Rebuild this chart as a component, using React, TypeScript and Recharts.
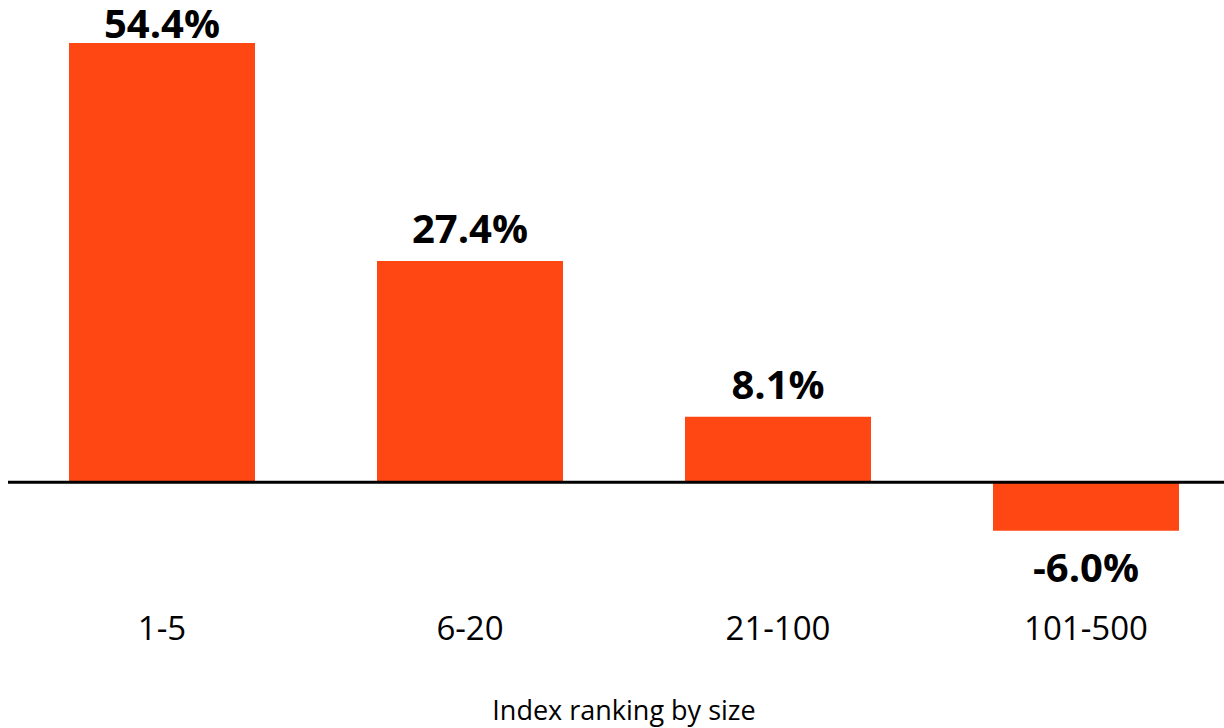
import { BarChart, Bar, XAxis, YAxis, ReferenceLine, LabelList } from "recharts";

const rankings = ["1-5", "6-20", "21-100", "101-500"];
const returns = [54.4, 27.4, 8.1, -6.0];

const data = rankings.map((r, i) => ({ rank: r, value: returns[i] }));

const FONT = "'Open Sans', sans-serif";

// value label above positive bars, below negative ones
function ValueLabel(props: any) {
  const { x, y, width, height, value } = props;
  const top = Math.min(y, y + height);
  const bottom = Math.max(y, y + height);
  const cx = x + width / 2;
  // keep the tallest label inside the frame
  const baseline = value >= 0 ? Math.max(top - 18, 30) : bottom + 51;
  return (
    <text
      x={cx}
      y={baseline}
      textAnchor="middle"
      fontFamily={FONT}
      fontWeight={700}
      fontSize={40}
      fill="#000"
    >
      {value.toFixed(1)}%
    </text>
  );
}

function RankTick(props: any) {
  const { x, y, payload } = props;
  return (
    <text
      x={x}
      y={y + 69}
      textAnchor="middle"
      fontFamily={FONT}
      fontSize={33}
      fill="#000"
    >
      {payload.value}
    </text>
  );
}

export default function App() {
  return (
    <div
      style={{
        position: "absolute",
        left: 8,
        top: 8,
        width: 1216,
        height: 720,
        overflow: "hidden",
        background: "#fff",
      }}
    >
      <BarChart
        width={1232}
        height={720}
        data={data}
        margin={{ top: 22, right: 0, bottom: 0, left: 0 }}
      >
        <XAxis
          dataKey="rank"
          axisLine={false}
          tickLine={false}
          height={165}
          tick={<RankTick />}
          interval={0}
          label={{
            value: "Index ranking by size",
            position: "insideBottom",
            offset: 8,
            fontFamily: FONT,
            fontSize: 27,
            fill: "#000",
          }}
        />
        <YAxis hide domain={[-10, 56]} />
        <Bar dataKey="value" fill="#FF4713" barSize={186} isAnimationActive={false}>
          <LabelList dataKey="value" content={<ValueLabel />} />
        </Bar>
        <ReferenceLine y={0} stroke="#000" strokeWidth={3} />
      </BarChart>
    </div>
  );
}
